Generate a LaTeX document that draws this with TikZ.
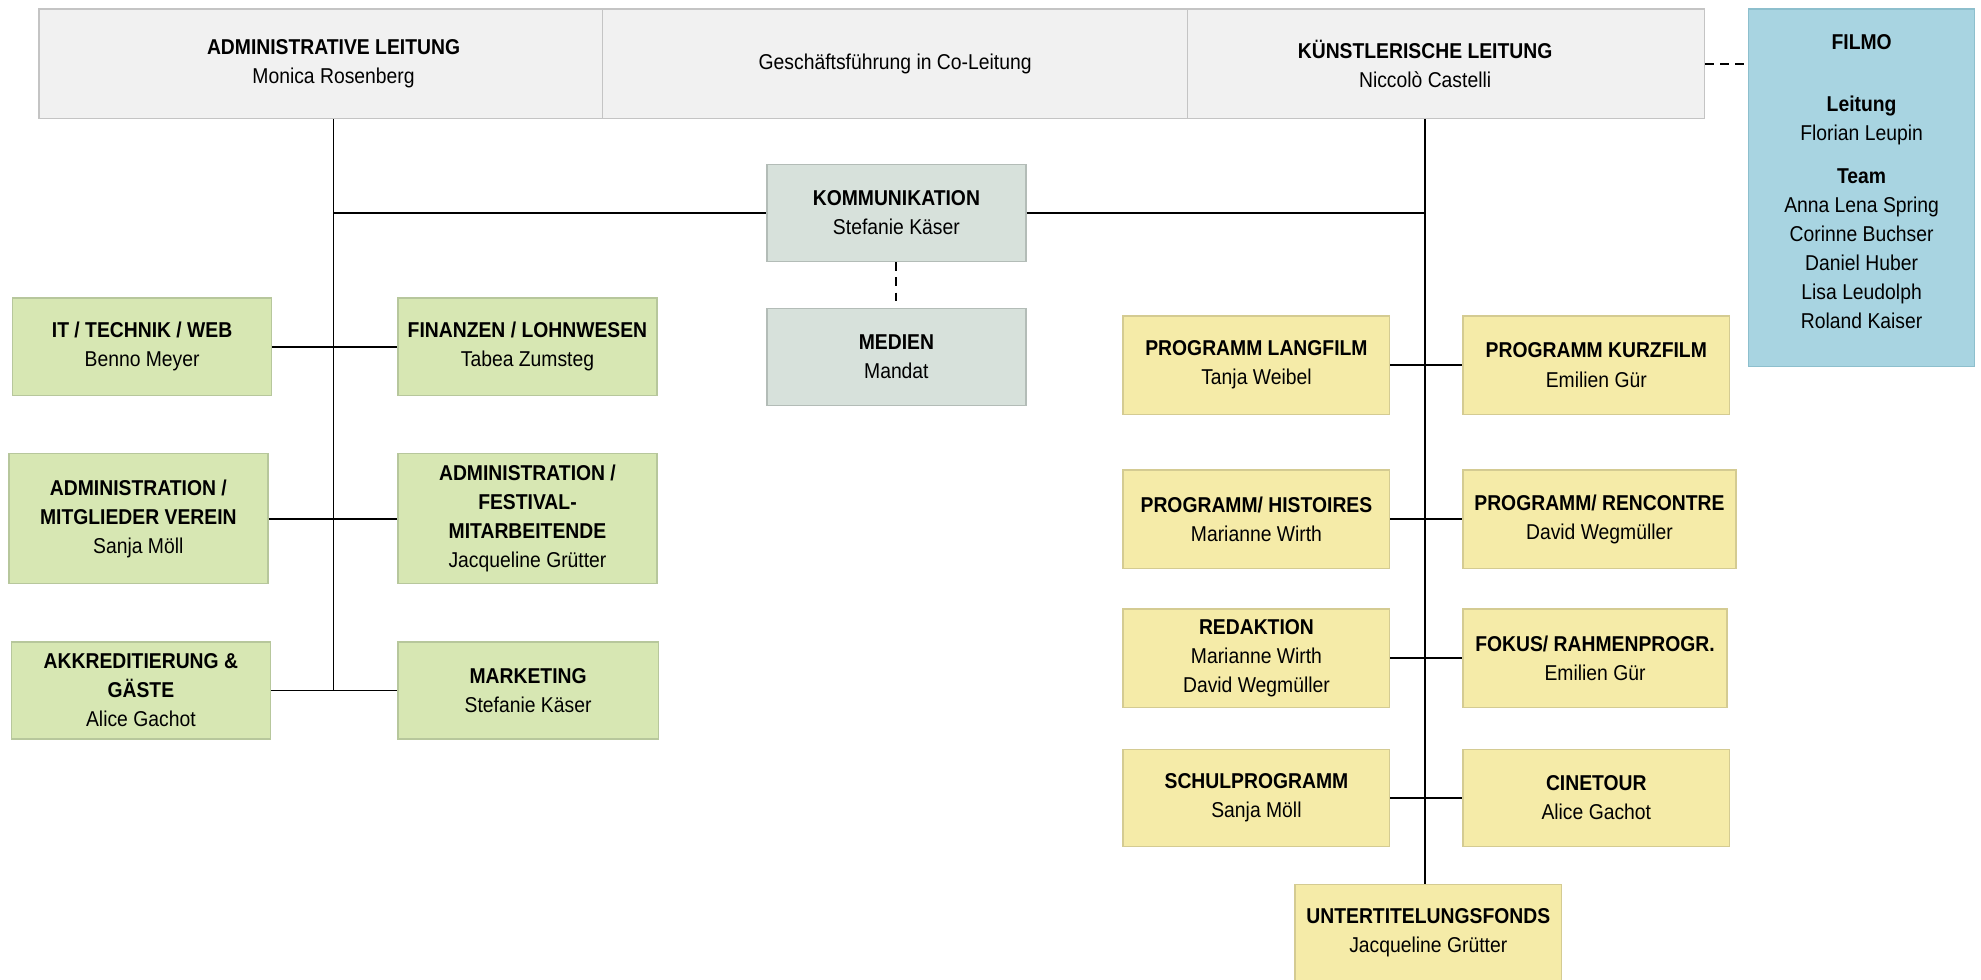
\documentclass[tikz,border=0pt]{standalone}
\usepackage{fontspec}
\setmainfont{Liberation Sans}[FakeStretch=0.9]
\definecolor{topfill}{HTML}{F1F1F1}
\definecolor{topdraw}{HTML}{C4C4C4}
\definecolor{grfill}{HTML}{D7E7B3}
\definecolor{grdraw}{HTML}{B7C79C}
\definecolor{yefill}{HTML}{F5EBA8}
\definecolor{yedraw}{HTML}{D4CB92}
\definecolor{cofill}{HTML}{D7E1DB}
\definecolor{codraw}{HTML}{B3BCB7}
\definecolor{fifill}{HTML}{A8D4E1}
\definecolor{fidraw}{HTML}{8DBFCD}
\begin{document}
\begin{tikzpicture}[x=1pt,y=-1pt,
  every node/.style={font=\fontsize{17}{23}\selectfont, inner sep=0pt, align=center},
  basebox/.style={rectangle, line width=1.1pt, minimum width=205pt, minimum height=77pt},
  topbox/.style={basebox, draw=topdraw, fill=topfill, minimum height=87pt},
  grbox/.style={basebox, draw=grdraw, fill=grfill},
  yebox/.style={basebox, draw=yedraw, fill=yefill, minimum width=211pt, minimum height=78pt},
  cobox/.style={basebox, draw=codraw, fill=cofill},
  fibox/.style={basebox, draw=fidraw, fill=fifill},
  conn/.style={draw=black, line width=1.5pt},
  dconn/.style={draw=black, line width=1.6pt, dash pattern=on 7pt off 5pt}
]
\useasboundingbox (0,0) rectangle (1568,775);
% top row
\node[topbox, minimum width=466pt] (adm) at (264,50.5) {\textbf{ADMINISTRATIVE LEITUNG}\\Monica Rosenberg};
\node[topbox, minimum width=442pt] (kl) at (1128,50.5) {\textbf{KÜNSTLERISCHE LEITUNG}\\Niccolò Castelli};
\node[topbox, minimum width=463pt] (gf) at (708.5,50.5) {Geschäftsführung in Co-Leitung};
% filmo
\node[fibox, minimum width=179pt, minimum height=283pt] (filmo) at (1473.5,148.5) {};
\node[anchor=north] (filmotxt) at (1473.5,27) {\textbf{FILMO}\\[26pt]\textbf{Leitung}\\Florian Leupin\\[11pt]\textbf{Team}\\Anna Lena Spring\\Corinne Buchser\\Daniel Huber\\Lisa Leudolph\\Roland Kaiser};
% communication
\node[cobox] (komm) at (709.5,168.5) {\textbf{KOMMUNIKATION}\\Stefanie Käser};
\node[cobox] (medien) at (709.5,282.5) {\textbf{MEDIEN}\\Mandat};
% left side
\node[grbox] (it) at (112.5,274.5) {\textbf{IT / TECHNIK / WEB}\\Benno Meyer};
\node[grbox] (fin) at (417.5,274.5) {\textbf{FINANZEN / LOHNWESEN}\\Tabea Zumsteg};
\node[grbox, minimum height=103pt] (admm) at (109.5,410.5) {\textbf{ADMINISTRATION /}\\\textbf{MITGLIEDER VEREIN}\\Sanja Möll};
\node[grbox, minimum height=103pt] (admf) at (417.5,410.5) {\textbf{ADMINISTRATION /}\\\textbf{FESTIVAL-}\\\textbf{MITARBEITENDE}\\Jacqueline Grütter};
\node[grbox] (akk) at (111.5,546.5) {\textbf{AKKREDITIERUNG \&}\\\textbf{GÄSTE}\\Alice Gachot};
\node[grbox, minimum width=206pt] (mkt) at (418,546.5) {\textbf{MARKETING}\\Stefanie Käser};
% right side
\node[yebox] (lang) at (994.5,289) {\textbf{PROGRAMM LANGFILM}\\Tanja Weibel};
\node[yebox] (kurz) at (1263.5,289) {\textbf{PROGRAMM KURZFILM}\\Emilien Gür};
\node[yebox] (hist) at (994.5,411) {\textbf{PROGRAMM/ HISTOIRES}\\Marianne Wirth};
\node[yebox, minimum width=216pt] (renc) at (1266,411) {\textbf{PROGRAMM/ RENCONTRE}\\David Wegmüller};
\node[yebox] (red) at (994.5,521) {\textbf{REDAKTION}\\Marianne Wirth\\David Wegmüller};
\node[yebox, minimum width=209pt] (fokus) at (1262.5,521) {\textbf{FOKUS/ RAHMENPROGR.}\\Emilien Gür};
\node[yebox, minimum height=77pt] (schul) at (994.5,631.5) {\textbf{SCHULPROGRAMM}\\Sanja Möll};
\node[yebox, minimum height=77pt] (cine) at (1263.5,631.5) {\textbf{CINETOUR}\\Alice Gachot};
\node[yebox, minimum height=77pt] (utf) at (1130.5,738.5) {\textbf{UNTERTITELUNGSFONDS}\\Jacqueline Grütter};
% connectors left
\draw[conn] (adm.south) -- (adm.south |- akk.east);
\draw[conn] (adm.south |- komm.west) -- (komm.west);
\draw[conn] (it.east) -- (fin.west);
\draw[conn] (admm.east) -- (admf.west);
\draw[conn] (akk.east) -- (mkt.west);
% connectors right
\draw[conn] (kl.south) -- (kl.south |- utf.north);
\draw[conn] (komm.east) -- (kl.south |- komm.east);
\draw[conn] (lang.east) -- (kurz.west);
\draw[conn] (hist.east) -- (renc.west);
\draw[conn] (red.east) -- (fokus.west);
\draw[conn] (schul.east) -- (cine.west);
% dashed
\draw[dconn] (komm.south) -- (medien.north);
\draw[dconn] (kl.east) -- (kl.east -| filmo.west);
\end{tikzpicture}
\end{document}
